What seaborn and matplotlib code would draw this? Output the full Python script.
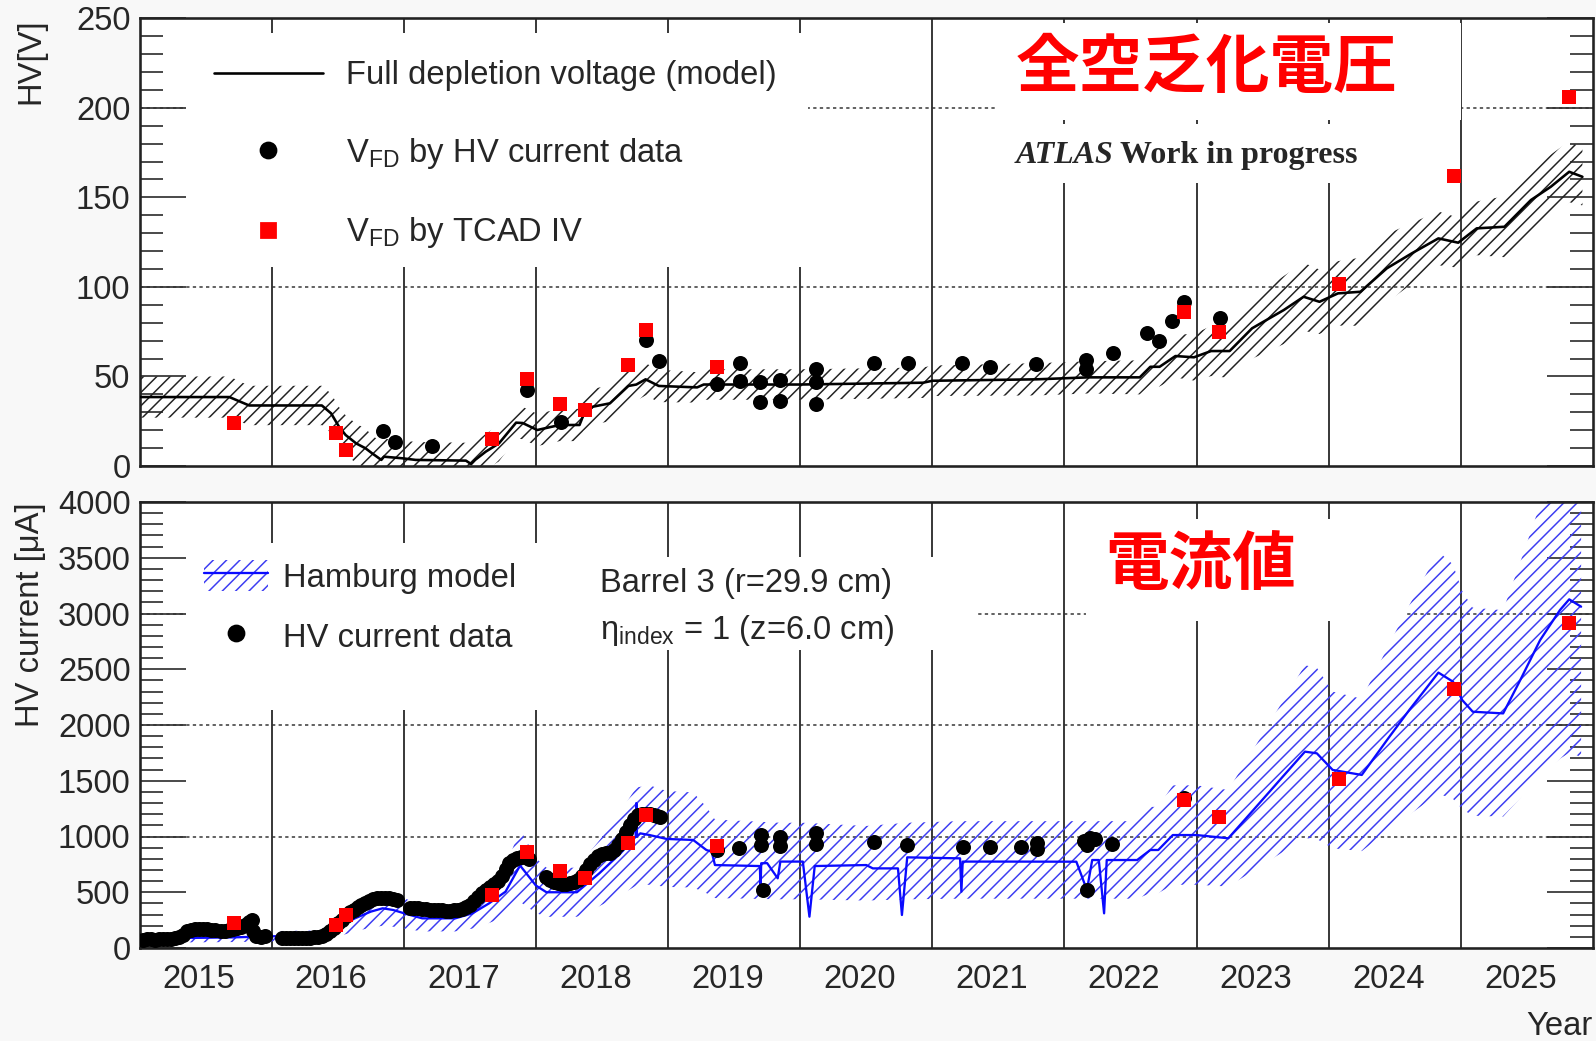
import numpy as np
import pandas as pd
import matplotlib
matplotlib.use("Agg")
import matplotlib.pyplot as plt
from matplotlib.lines import Line2D
from matplotlib.patches import Patch, Rectangle
from matplotlib.legend_handler import HandlerTuple
from matplotlib.ticker import MultipleLocator
import seaborn as sns

# ---------------------------------------------------------------- data
# Upper panel: full depletion voltage [V]
vfd_model_year = [2015.00, 2015.68, 2015.83, 2016.38, 2016.45, 2016.51, 2016.56, 2016.64,
                  2016.71, 2016.76, 2016.83, 2016.85, 2016.99, 2017.09, 2017.47, 2017.51,
                  2017.54, 2017.62, 2017.72, 2017.85, 2017.90, 2018.01, 2018.18, 2018.33,
                  2018.36, 2018.43, 2018.56, 2018.70, 2018.76, 2018.83, 2018.93, 2019.22,
                  2019.27, 2020.00, 2020.93, 2021.00, 2021.79, 2022.18, 2022.57, 2022.65,
                  2022.72, 2022.84, 2022.98, 2023.11, 2023.25, 2023.42, 2023.66, 2023.81,
                  2023.93, 2024.07, 2024.24, 2024.44, 2024.63, 2024.83, 2024.98, 2025.12,
                  2025.33, 2025.53, 2025.68, 2025.82, 2025.92]
vfd_model_volt = [38.5, 38.5, 33.8, 33.8, 29.4, 21.9, 17.3, 12.6,
                  9.9, 7.1, 3.4, 5.2, 4.3, 3.4, 3.0, 1.1,
                  3.4, 8.0, 12.6, 24.2, 24.0, 20.1, 22.9, 22.9,
                  28.5, 33.1, 35.0, 44.7, 45.5, 48.4, 44.7, 43.9,
                  45.5, 45.5, 46.5, 47.6, 48.4, 49.5, 49.5, 55.4,
                  55.4, 61.4, 60.7, 64.2, 64.2, 76.9, 87.1, 94.5,
                  91.7, 96.4, 97.3, 110.4, 118.8, 127.1, 124.7, 132.7,
                  133.6, 148.5, 155.9, 164.3, 161.5]
vfd_model_err = [11.5, 11.5, 11, 11, 11, 11, 11, 11,
                 11, 10, 10, 10, 10, 10, 10, 10,
                 10, 10, 10, 9, 9, 9, 9, 9,
                 9, 10, 10, 9, 9, 9, 9, 8.5,
                 8.5, 8.5, 8.5, 8.5, 9, 9, 9.5, 10,
                 11, 12, 13, 14, 15, 17, 19, 19,
                 18, 18, 19, 19, 17, 15, 14, 15,
                 17, 18, 18, 17, 16]

vfd_hv_year = [2016.845, 2016.934, 2017.216, 2017.935, 2018.187, 2018.83, 2018.934, 2019.368,
               2019.545, 2019.545, 2019.697, 2019.697, 2019.847, 2019.847, 2020.12, 2020.12,
               2020.12, 2020.557, 2020.816, 2021.224, 2021.44, 2021.783, 2022.163, 2022.163,
               2022.365, 2022.627, 2022.718, 2022.816, 2022.907, 2023.177]
vfd_hv_volt = [19.5, 13.2, 11.3, 42.4, 24.7, 70.4, 58.8, 45.8,
               57.5, 47.7, 47.1, 35.9, 48.0, 36.3, 54.0, 47.1,
               34.6, 57.7, 57.7, 57.4, 55.4, 56.8, 59.2, 54.0,
               63.3, 74.1, 70.0, 81.1, 91.7, 82.5]

tcad_year = [2015.715, 2016.49, 2016.56, 2017.665, 2017.935, 2018.18, 2018.37, 2018.695,
             2018.83, 2019.368, 2022.905, 2023.17, 2024.08, 2024.948, 2025.818]
tcad_volt = [23.8, 18.6, 8.9, 15.1, 48.4, 34.6, 31.3, 56.4,
             75.9, 55.1, 86.2, 74.7, 101.6, 162.1, 206.2]

# Lower panel: HV current [uA]
hamburg_year = [2015.00, 2015.30, 2015.36, 2015.70, 2016.00, 2016.40, 2016.51, 2016.63,
                2016.75, 2016.84, 2016.92, 2017.02, 2017.14, 2017.39, 2017.52, 2017.645,
                2017.77, 2017.88, 2018.00, 2018.08, 2018.31, 2018.33, 2018.48, 2018.64,
                2018.755, 2018.76, 2018.765, 2018.79, 2018.86, 2018.99, 2019.19, 2019.29,
                2019.33, 2019.355, 2019.695, 2019.70, 2019.705, 2019.75, 2019.83, 2019.85,
                2020.02, 2020.07, 2020.11, 2020.50, 2020.55, 2020.74, 2020.77, 2020.81,
                2021.21, 2021.22, 2021.23, 2021.51, 2022.09, 2022.17, 2022.21, 2022.26,
                2022.30, 2022.32, 2022.55, 2022.65, 2022.71, 2022.82, 2023.00, 2023.24,
                2023.43, 2023.63, 2023.82, 2023.91, 2024.03, 2024.25, 2024.46, 2024.61,
                2024.83, 2024.94, 2025.01, 2025.09, 2025.32, 2025.45, 2025.60, 2025.75,
                2025.82, 2025.91]
hamburg_cur = [70, 75, 90, 95, 105, 110, 190, 266,
               326, 356, 341, 305, 266, 266, 311, 400,
               505, 740, 560, 500, 500, 520, 670, 849,
               998, 1300, 1000, 1028, 1013, 978, 969, 879,
               864, 744, 735, 520, 760, 761, 625, 775,
               775, 281, 735, 744, 714, 714, 296, 813,
               804, 505, 775, 775, 774, 520, 789, 789,
               311, 789, 789, 879, 879, 1013, 1013, 984,
               1238, 1507, 1761, 1746, 1597, 1552, 1896, 2135,
               2470, 2389, 2224, 2119, 2104, 2404, 2762, 3031,
               3127, 3061]

# centre of the Hamburg-model uncertainty band (outage dips excluded)
hamburg_band_year = [2015.0, 2015.3, 2015.36, 2015.7, 2016.0, 2016.4, 2016.51, 2016.63,
                     2016.75, 2016.84, 2016.92, 2017.02, 2017.14, 2017.39, 2017.52, 2017.645,
                     2017.77, 2017.88, 2018.0, 2018.08, 2018.31, 2018.48, 2018.64, 2018.76,
                     2018.86, 2018.99, 2019.19, 2019.29, 2019.355, 2019.85, 2020.02, 2020.5,
                     2020.81, 2021.21, 2022.55, 2022.65, 2022.71, 2022.82, 2023.0, 2023.24,
                     2023.43, 2023.63, 2023.82, 2023.91, 2024.03, 2024.25, 2024.46, 2024.61,
                     2024.83, 2024.94, 2025.01, 2025.09, 2025.32, 2025.45, 2025.6, 2025.75,
                     2025.82, 2025.91]
hamburg_band_mid = [70, 75, 90, 95, 105, 110, 190, 266,
                    326, 356, 341, 305, 266, 266, 311, 400,
                    505, 740, 560, 500, 500, 670, 849, 1000,
                    1013, 978, 969, 879, 800, 780, 780, 760,
                    780, 790, 790, 879, 879, 1013, 1013, 984,
                    1238, 1507, 1761, 1746, 1597, 1552, 1896, 2135,
                    2470, 2389, 2224, 2119, 2104, 2404, 2762, 3031,
                    3127, 3061]
hamburg_rel_unc = 0.44

hv_data_year = [
    2015.03, 2015.06, 2015.09, 2015.12, 2015.15, 2015.18, 2015.21, 2015.24, 2015.27, 2015.30,
    2015.33, 2015.36, 2015.39, 2015.42, 2015.45, 2015.48, 2015.51, 2015.54, 2015.57, 2015.62,
    2015.65, 2015.68, 2015.71, 2015.74, 2015.77, 2015.80, 2015.83, 2015.85, 2015.86, 2015.88,
    2015.92, 2015.95,
    2016.08, 2016.11, 2016.14, 2016.17, 2016.20, 2016.23, 2016.26, 2016.29, 2016.32, 2016.35,
    2016.38, 2016.41, 2016.44, 2016.47, 2016.50, 2016.53, 2016.56, 2016.59, 2016.62, 2016.65,
    2016.68, 2016.71, 2016.74, 2016.77, 2016.80, 2016.83, 2016.86, 2016.89, 2016.92, 2016.95,
    2017.05, 2017.08, 2017.11, 2017.14, 2017.17, 2017.20, 2017.23, 2017.26, 2017.29, 2017.32,
    2017.35, 2017.38, 2017.41, 2017.44, 2017.47, 2017.50, 2017.53, 2017.56, 2017.59, 2017.62,
    2017.65, 2017.68, 2017.71, 2017.74, 2017.77, 2017.80, 2017.83, 2017.86, 2017.89, 2017.92,
    2017.95,
    2018.08, 2018.11, 2018.14, 2018.17, 2018.20, 2018.23, 2018.26, 2018.29, 2018.32, 2018.35,
    2018.38, 2018.41, 2018.44, 2018.47, 2018.50, 2018.53, 2018.56, 2018.59, 2018.62, 2018.65,
    2018.68, 2018.71, 2018.74, 2018.77, 2018.80, 2018.83, 2018.86, 2018.89, 2018.92, 2018.94,
    2019.37, 2019.54, 2019.70, 2019.70, 2019.72, 2019.85, 2019.85, 2020.12, 2020.12, 2020.56,
    2020.81, 2021.23, 2021.44, 2021.67, 2021.79, 2021.79, 2022.15, 2022.17, 2022.19, 2022.23,
    2022.36, 2022.17, 2022.905]
hv_data_cur = [
    72, 78, 82, 76, 80, 84, 78, 80, 86, 95,
    120, 150, 165, 170, 168, 166, 168, 165, 158, 150,
    155, 162, 168, 175, 185, 205, 235, 250, 150, 112,
    100, 108,
    88, 86, 88, 86, 88, 90, 90, 92, 95, 100,
    110, 125, 150, 180, 220, 255, 290, 320, 345, 365,
    385, 400, 420, 438, 448, 452, 448, 444, 438, 428,
    358, 362, 358, 352, 348, 345, 344, 340, 338, 336,
    336, 340, 345, 352, 365, 390, 420, 455, 490, 520,
    548, 570, 600, 650, 710, 760, 790, 805, 815, 815,
    800,
    640, 610, 590, 580, 575, 578, 585, 595, 610, 650,
    700, 750, 790, 825, 840, 848, 855, 880, 920, 975,
    1040, 1100, 1160, 1195, 1205, 1205, 1198, 1190, 1182, 1175,
    880, 900, 1010, 925, 520, 995, 915, 1030, 935, 954,
    924, 903, 903, 909, 940, 885, 960, 920, 985, 975,
    930, 520, 1345]

tcad_cur = [221, 206, 296, 475, 864, 690, 625, 939,
            1193, 915, 1327, 1172, 1515, 2320, 2918]

year_labels = [str(y) for y in range(2015, 2026)]
year_edges = list(range(2016, 2026))

# ---------------------------------------------------------------- style
W, H, DPI = 1596, 1041, 200
PT = 72.0 / DPI  # one pixel in points

sns.set_style("white")
plt.rcParams["font.family"] = ["Liberation Sans", "DejaVu Sans"]
plt.rcParams["hatch.linewidth"] = 1.5 * PT
FS = 11.8

BLUE = "#0a0aff"
BLUE_HATCH = "#3d3df2"
GRID = "#3c3c3c"

fig = plt.figure(figsize=(W / DPI, H / DPI), dpi=DPI, facecolor="#f8f8f8")


def fx(px):
    return px / W


def fy(py):
    return 1.0 - py / H


ax_v = fig.add_axes([fx(139.5), fy(466), (1593 - 139.5) / W, (466 - 18.3) / H])
ax_i = fig.add_axes([fx(139.5), fy(948), (1593 - 139.5) / W, (948 - 502) / H])


def white_box(ax, x0, y0, x1, y1):
    ax.add_patch(Rectangle((fx(x0), fy(y1)), (x1 - x0) / W, (y1 - y0) / H,
                           transform=fig.transFigure, facecolor="white",
                           edgecolor="none", zorder=1.5))


for ax in (ax_v, ax_i):
    ax.set_facecolor("white")
    ax.set_xlim(2015, 2026)
    for yr in year_edges:
        ax.axvline(yr, color=GRID, lw=2.0 * PT, zorder=1)
    for s in ax.spines.values():
        s.set_linewidth(2.6 * PT)
        s.set_color("#222222")
    ax.set_xticks([y + 0.45 for y in range(2015, 2026)])
    ax.tick_params(axis="x", which="both", length=0, labelsize=FS, pad=16 * PT)
    ax.tick_params(axis="y", which="both", direction="in", left=True, right=True,
                   labelsize=FS, pad=9 * PT, color="#222222", width=1.6 * PT)
    ax.tick_params(axis="y", which="major", length=46 * PT)
    ax.tick_params(axis="y", which="minor", length=23 * PT)

# ---------------------------------------------------------------- upper panel
ax_v.set_ylim(0, 250)
ax_v.yaxis.set_major_locator(MultipleLocator(50))
ax_v.yaxis.set_minor_locator(MultipleLocator(10))
ax_v.tick_params(axis="x", labelbottom=False)
for v in (100, 200):
    ax_v.axhline(v, color="#333333", lw=1.5 * PT, ls=(0, (2.2, 2.2)), zorder=1)

white_box(ax_v, 186, 33, 808, 267)
white_box(ax_v, 997, 23, 1461, 120)
white_box(ax_v, 997, 124, 1378, 183)

vfd = pd.DataFrame({"year": vfd_model_year, "volt": vfd_model_volt, "err": vfd_model_err})
ax_v.fill_between(vfd["year"], vfd["volt"] - vfd["err"], vfd["volt"] + vfd["err"],
                  facecolor="none", edgecolor="#222222", hatch="/////", linewidth=0, zorder=2)
sns.lineplot(data=vfd, x="year", y="volt", ax=ax_v, color="black", lw=2.6 * PT,
             estimator=None, sort=False, zorder=3)
sns.scatterplot(x=vfd_hv_year, y=vfd_hv_volt, ax=ax_v, marker="o", s=(15 * PT) ** 2,
                color="black", linewidth=0, zorder=4, legend=False)
sns.scatterplot(x=tcad_year, y=tcad_volt, ax=ax_v, marker="s", s=(14 * PT) ** 2,
                color="red", linewidth=0, zorder=5, legend=False)

ax_v.set_xlabel("")
ax_v.set_ylabel("HV[V]", loc="top", fontsize=FS)
ax_v.yaxis.set_label_coords((46 - 139.5) / 1453.5, 1.0)

leg_v = ax_v.legend(
    handles=[Line2D([], [], color="black", lw=2.6 * PT),
             Line2D([], [], color="black", marker="o", ls="none", ms=15 * PT),
             Line2D([], [], color="red", marker="s", ls="none", ms=14 * PT)],
    labels=["Full depletion voltage (model)",
            r"V$_{\mathregular{FD}}$ by HV current data",
            r"V$_{\mathregular{FD}}$ by TCAD IV"],
    loc="upper left", bbox_to_anchor=(fx(214), fy(60)), bbox_transform=fig.transFigure,
    frameon=False, borderpad=0, borderaxespad=0, handlelength=3.32,
    handletextpad=0.70, labelspacing=1.36, fontsize=FS)
leg_v.set_zorder(6)

# ---------------------------------------------------------------- lower panel
ax_i.set_ylim(0, 4000)
ax_i.yaxis.set_major_locator(MultipleLocator(500))
ax_i.yaxis.set_minor_locator(MultipleLocator(100))
ax_i.set_xticklabels(year_labels)
for v in (1000, 2000, 3000):
    ax_i.axhline(v, color="#333333", lw=1.5 * PT, ls=(0, (2.2, 2.2)), zorder=1)

white_box(ax_i, 186, 543, 560, 710)
white_box(ax_i, 560, 557, 975, 650)
white_box(ax_i, 1086, 519, 1404, 621)

band = pd.DataFrame({"year": hamburg_band_year, "mid": hamburg_band_mid})
ax_i.fill_between(band["year"], band["mid"] * (1 - hamburg_rel_unc),
                  band["mid"] * (1 + hamburg_rel_unc),
                  facecolor="none", edgecolor=BLUE_HATCH, hatch="/////", linewidth=0, zorder=2)
ham = pd.DataFrame({"year": hamburg_year, "cur": hamburg_cur})
sns.lineplot(data=ham, x="year", y="cur", ax=ax_i, color=BLUE, lw=2.3 * PT,
             estimator=None, sort=False, zorder=3)
sns.scatterplot(x=hv_data_year, y=hv_data_cur, ax=ax_i, marker="o", s=(15 * PT) ** 2,
                color="black", linewidth=0, zorder=4, legend=False)
sns.scatterplot(x=tcad_year, y=tcad_cur, ax=ax_i, marker="s", s=(14 * PT) ** 2,
                color="red", linewidth=0, zorder=5, legend=False)

ax_i.set_ylabel(r"HV current [μA]", loc="top", fontsize=FS)
ax_i.yaxis.set_label_coords((46 - 139.5) / 1453.5, 1.0)
ax_i.set_xlabel("Year", loc="right", fontsize=FS)
ax_i.xaxis.set_label_coords(1.0, -(1011 - 948) / 446)

leg_i = ax_i.legend(
    handles=[(Patch(facecolor="none", edgecolor=BLUE_HATCH, hatch="/////", linewidth=0),
              Line2D([], [], color=BLUE, lw=2.3 * PT)),
             Line2D([], [], color="black", marker="o", ls="none", ms=15 * PT)],
    labels=["Hamburg model", "HV current data"],
    handler_map={tuple: HandlerTuple(ndivide=1)},
    loc="upper left", bbox_to_anchor=(fx(204), fy(560)), bbox_transform=fig.transFigure,
    frameon=False, borderpad=0, borderaxespad=0, handlelength=1.95, handleheight=1.07,
    handletextpad=0.46, labelspacing=0.81, fontsize=FS)
leg_i.set_zorder(6)

# ---------------------------------------------------------------- annotations
fig.text(fx(1207), fy(68), "全空乏化電圧", color="red", fontsize=22.9, fontweight="bold",
         family=["Noto Sans CJK JP"], ha="center", va="center")
fig.text(fx(1201), fy(565), "電流値", color="red", fontsize=22.9, fontweight="bold",
         family=["Noto Sans CJK JP"], ha="center", va="center")
fig.text(fx(1016), fy(163), "ATLAS", family=["Liberation Serif"], style="italic",
         weight="bold", fontsize=11.5, va="baseline")
fig.text(fx(1120), fy(163), "Work in progress", family=["Liberation Serif"],
         weight="bold", fontsize=11.5, va="baseline")
fig.text(fx(600), fy(592), "Barrel 3 (r=29.9 cm)", fontsize=FS, va="baseline")
fig.text(fx(600), fy(639), r"η$_{\mathregular{index}}$ = 1 (z=6.0 cm)", fontsize=FS,
         va="baseline")

fig.savefig("out.png", dpi=DPI, facecolor=fig.get_facecolor())
